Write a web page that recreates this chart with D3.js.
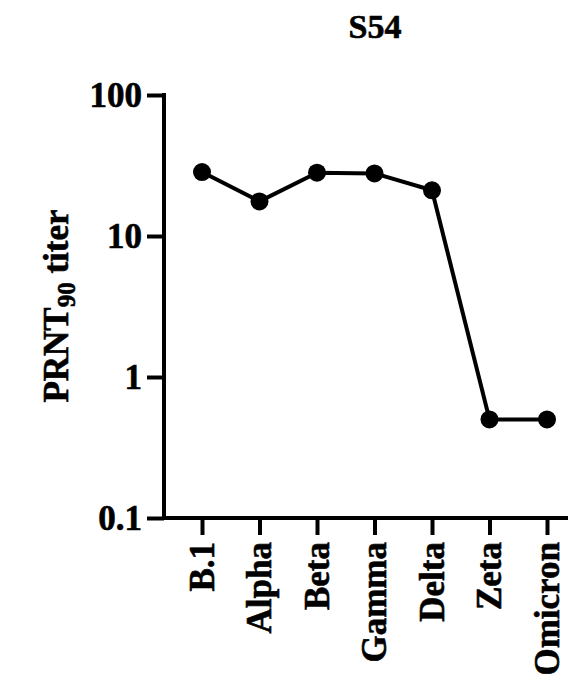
<!DOCTYPE html>
<html>
<head>
<meta charset="utf-8">
<script src="https://cdn.jsdelivr.net/npm/d3@7"></script>
<style>
  html, body { margin: 0; padding: 0; background: #fff; }
  svg text { font-family: "Liberation Serif", "Times New Roman", serif; font-weight: bold; fill: #000; stroke: #000; stroke-width: 0.6px; }
</style>
</head>
<body>
<svg id="chart" width="570" height="682"></svg>
<script>
const categories = ["B.1", "Alpha", "Beta", "Gamma", "Delta", "Zeta", "Omicron"];
const titers = [28.4, 17.6, 28.1, 27.8, 21.1, 0.5, 0.5];
const yTickValues = [0.1, 1, 10, 100];
const yTickLabels = ["0.1", "1", "10", "100"];
const chartTitle = "S54";

const svg = d3.select("#chart");
const axisX = 164, axisY = 518;

const x = d3.scalePoint().domain(categories).range([202, 547]);
const y = d3.scaleLog().domain([0.1, 100]).range([518, 95]);

// Title
svg.append("text")
  .attr("x", 375).attr("y", 38)
  .attr("text-anchor", "middle")
  .style("font-size", "34px")
  .text(chartTitle);

// Y axis
const yAxis = d3.axisLeft(y)
  .tickValues(yTickValues)
  .tickFormat((d, i) => yTickLabels[i])
  .tickSize(17)
  .tickPadding(5);
const gy = svg.append("g").attr("transform", `translate(${axisX},0)`).call(yAxis);
gy.select(".domain").attr("d", `M0,${y(100) - 2}V${axisY + 2}`).attr("stroke", "#000").attr("stroke-width", 4);
gy.selectAll(".tick line").attr("stroke", "#000").attr("stroke-width", 4);
gy.selectAll(".tick text").style("font-size", "35px").style("font-family", "Liberation Serif").style("font-weight", "bold").attr("fill", "#000");

// X axis
const xAxis = d3.axisBottom(x).tickSize(17).tickFormat("");
const gx = svg.append("g").attr("transform", `translate(0,${axisY})`).call(xAxis);
gx.select(".domain").attr("d", `M${axisX - 2},0H568`).attr("stroke", "#000").attr("stroke-width", 4);
gx.selectAll(".tick line").attr("stroke", "#000").attr("stroke-width", 4);

// X labels rotated
svg.append("g").selectAll("text")
  .data(categories)
  .join("text")
  .attr("transform", d => `translate(${x(d)},542) rotate(-90)`)
  .attr("text-anchor", "end")
  .attr("dy", "0.33em")
  .style("font-size", "35px")
  .text(d => d);

// Y label
const yl = svg.append("text")
  .attr("transform", "translate(68,306) rotate(-90)")
  .attr("text-anchor", "middle")
  .style("font-size", "35px");
yl.append("tspan").text("PRNT");
yl.append("tspan").text("90").style("font-size", "25px").attr("dy", 7);
yl.append("tspan").text(" titer").attr("dy", -7);

// Line
const line = d3.line().x((d, i) => x(categories[i])).y(d => y(d));
svg.append("path")
  .datum(titers)
  .attr("d", line)
  .attr("fill", "none")
  .attr("stroke", "#000")
  .attr("stroke-width", 4)
  .attr("stroke-linejoin", "round");

// Points
svg.append("g").selectAll("circle")
  .data(titers)
  .join("circle")
  .attr("cx", (d, i) => x(categories[i]))
  .attr("cy", d => y(d))
  .attr("r", 9)
  .attr("fill", "#000");
</script>
</body>
</html>
